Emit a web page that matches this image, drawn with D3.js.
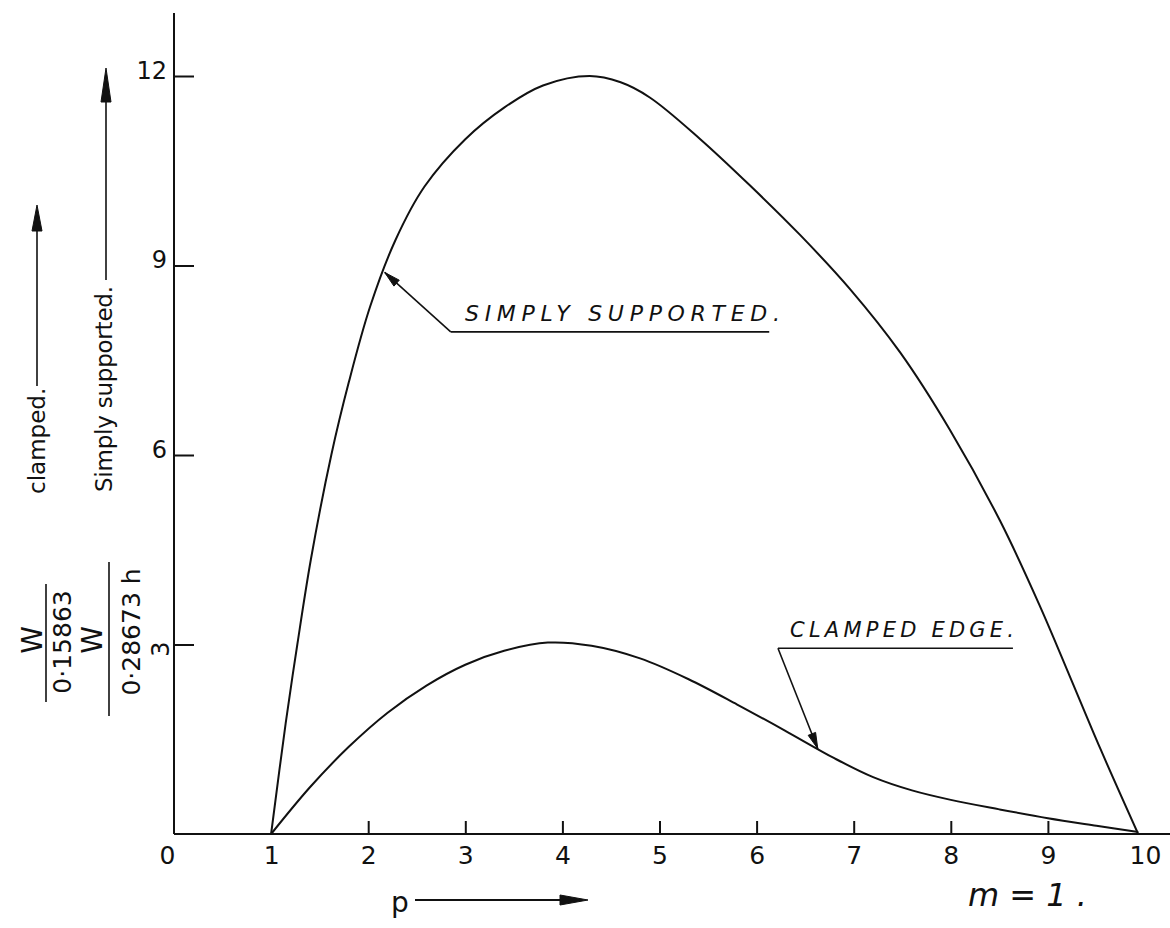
<!DOCTYPE html>
<html>
<head>
<meta charset="utf-8">
<script src="https://cdn.jsdelivr.net/npm/d3@7"></script>
<style>
  html, body { margin: 0; padding: 0; background: #fff; }
  svg { display: block; }
  text { font-family: "DejaVu Sans", "Liberation Sans", sans-serif; fill: #111; }
</style>
</head>
<body>
<svg id="chart" width="1170" height="928"></svg>
<script>
// ---- data ----
const xTickValues = [0, 1, 2, 3, 4, 5, 6, 7, 8, 9, 10];
const xTickLabels = ["0", "1", "2", "3", "4", "5", "6", "7", "8", "9", "10"];
const yTickValues = [3, 6, 9, 12];
const yTickLabels = ["3", "6", "9", "12"];

// simply supported edge
const ssP = [1.0, 1.15, 1.27, 1.41, 1.62, 1.8, 2.02, 2.28, 2.58, 3.0, 3.4, 3.8, 4.28, 4.6, 4.9, 5.42, 5.93, 6.45, 6.96, 7.48, 7.99, 8.51, 8.92, 9.23, 9.54, 9.93];
const ssW = [0, 1.75, 3.0, 4.35, 6.0, 7.15, 8.35, 9.4, 10.25, 11.0, 11.5, 11.85, 12.0, 11.9, 11.66, 11.0, 10.27, 9.48, 8.63, 7.62, 6.4, 4.95, 3.6, 2.48, 1.35, 0];

// clamped edge
const clP = [1.0, 1.4, 1.8, 2.2, 2.6, 3.0, 3.4, 3.85, 4.3, 4.8, 5.3, 5.8, 6.3, 6.8, 7.2, 7.6, 8.0, 8.5, 9.0, 9.5, 9.93];
const clW = [0, 0.74, 1.38, 1.92, 2.35, 2.68, 2.9, 3.03, 2.98, 2.78, 2.45, 2.05, 1.63, 1.2, 0.9, 0.69, 0.54, 0.39, 0.25, 0.13, 0.03];

// annotation anchors in data units
const ssNote = { label: "SIMPLY  SUPPORTED.", lineStart: [2.85, 7.95], lineEnd: [6.13, 7.95], tip: [2.17, 8.89] };
const clNote = { label: "CLAMPED EDGE.", lineStart: [6.22, 2.94], lineEnd: [8.64, 2.94], tip: [6.63, 1.35] };

// ---- layout ----
const svg = d3.select("#chart");
const x = d3.scaleLinear().domain([0, 10]).range([174, 1145]);
const y = d3.scaleLinear().domain([0, 12]).range([834, 76]);

const ink = "#111";

// axis lines
svg.append("line").attr("x1", x(0)).attr("x2", 1170).attr("y1", y(0)).attr("y2", y(0))
  .attr("stroke", ink).attr("stroke-width", 2);
svg.append("line").attr("x1", x(0)).attr("x2", x(0)).attr("y1", 13).attr("y2", y(0))
  .attr("stroke", ink).attr("stroke-width", 2);

// x axis ticks + labels
const xAxis = d3.axisBottom(x).tickValues(xTickValues)
  .tickFormat((d, i) => xTickLabels[i]).tickSizeInner(-13).tickSizeOuter(0).tickPadding(12);
const gx = svg.append("g").attr("transform", `translate(0,${y(0)})`).call(xAxis);
gx.select(".domain").remove();
gx.selectAll(".tick line").attr("stroke", ink).attr("stroke-width", 2)
  .attr("display", d => (d === 0 || d === 1 || d === 10) ? "none" : null);
gx.selectAll(".tick text").attr("font-size", 25).attr("fill", ink)
  .attr("font-family", "DejaVu Sans, sans-serif")
  .attr("dx", d => d === 0 ? -7 : 0);

// y axis ticks + labels
const yAxis = d3.axisLeft(y).tickValues(yTickValues)
  .tickFormat((d, i) => yTickLabels[i]).tickSizeInner(-20).tickSizeOuter(0).tickPadding(7);
const gy = svg.append("g").attr("transform", `translate(${x(0)},0)`).call(yAxis);
gy.select(".domain").remove();
gy.selectAll(".tick line").attr("stroke", ink).attr("stroke-width", 2);
gy.selectAll(".tick text").attr("font-size", 24).attr("fill", ink)
  .attr("font-family", "DejaVu Sans, sans-serif").attr("dy", "0.1em");
gy.selectAll(".tick text").filter(d => d === 3)
  .attr("text-anchor", "middle").attr("dy", null)
  .attr("transform", "translate(-12,4) rotate(-90)").attr("x", 0).attr("y", 0)
  .attr("dominant-baseline", "middle");

// curves
const line = d3.line().x(d => x(d[0])).y(d => y(d[1])).curve(d3.curveCatmullRom.alpha(0.5));
svg.append("path").datum(d3.zip(ssP, ssW)).attr("d", line)
  .attr("fill", "none").attr("stroke", ink).attr("stroke-width", 2);
svg.append("path").datum(d3.zip(clP, clW)).attr("d", line)
  .attr("fill", "none").attr("stroke", ink).attr("stroke-width", 2);

// arrowhead helper
function arrowHead(x1, y1, x2, y2, len, half) {
  const a = Math.atan2(y2 - y1, x2 - x1);
  const bx = x2 - len * Math.cos(a), by = y2 - len * Math.sin(a);
  const px = -Math.sin(a) * half, py = Math.cos(a) * half;
  svg.append("path")
    .attr("d", `M${x2},${y2}L${bx + px},${by + py}L${bx - px},${by - py}Z`)
    .attr("fill", ink).attr("stroke", ink).attr("stroke-width", 1);
}

function note(n, textSpan, size) {
  const [sx, sy] = [x(n.lineStart[0]), y(n.lineStart[1])];
  const [ex, ey] = [x(n.lineEnd[0]), y(n.lineEnd[1])];
  const [tx, ty] = [x(n.tip[0]), y(n.tip[1])];
  svg.append("line").attr("x1", sx).attr("y1", sy).attr("x2", ex).attr("y2", ey)
    .attr("stroke", ink).attr("stroke-width", 1.6);
  svg.append("line").attr("x1", sx).attr("y1", sy).attr("x2", tx).attr("y2", ty)
    .attr("stroke", ink).attr("stroke-width", 1.6);
  arrowHead(sx, sy, tx, ty, 16, 4);
  svg.append("text").attr("x", textSpan[0]).attr("y", sy - 11)
    .attr("font-size", size).attr("font-style", "italic")
    .attr("textLength", textSpan[1] - textSpan[0]).attr("lengthAdjust", "spacing")
    .text(n.label);
}
note(ssNote, [465, 780], 22);
note(clNote, [790, 1014], 21);

// y-axis titles (rotated)
function vtext(cx, cy, str, size, anchor, extra) {
  const t = svg.append("text").attr("transform", `translate(${cx},${cy}) rotate(-90)`)
    .attr("font-size", size).attr("text-anchor", anchor || "start").text(str);
  if (extra) extra(t);
  return t;
}
vtext(45, 494, "clamped.", 23);
svg.append("line").attr("x1", 37).attr("x2", 37).attr("y1", 386).attr("y2", 222)
  .attr("stroke", ink).attr("stroke-width", 1.6);
arrowHead(37, 300, 37, 205, 26, 5);

vtext(112, 492, "Simply supported.", 23, "start", t => t.attr("textLength", 206).attr("lengthAdjust", "spacing"));
svg.append("line").attr("x1", 106).attr("x2", 106).attr("y1", 280).attr("y2", 85)
  .attr("stroke", ink).attr("stroke-width", 1.6);
arrowHead(106, 200, 106, 68, 34, 5);

// fractions
vtext(42, 640, "W", 28, "middle");
svg.append("line").attr("x1", 46).attr("x2", 46).attr("y1", 702).attr("y2", 584)
  .attr("stroke", ink).attr("stroke-width", 1.6);
vtext(71, 642, "0·15863", 25, "middle");

vtext(102, 640, "W", 28, "middle");
svg.append("line").attr("x1", 109).attr("x2", 109).attr("y1", 716).attr("y2", 562)
  .attr("stroke", ink).attr("stroke-width", 1.6);
vtext(140, 632, "0·28673 h", 25, "middle");

// bottom labels
svg.append("text").attr("x", 391).attr("y", 912).attr("font-size", 28).text("p");
svg.append("line").attr("x1", 415).attr("x2", 570).attr("y1", 900).attr("y2", 900)
  .attr("stroke", ink).attr("stroke-width", 2);
arrowHead(540, 900, 588, 900, 28, 5);

svg.append("text").attr("x", 968).attr("y", 906).attr("font-size", 32)
  .attr("font-family", "DejaVu Serif, serif").attr("font-style", "italic")
  .attr("xml:space", "preserve").text("m = 1 .");
</script>
</body>
</html>
